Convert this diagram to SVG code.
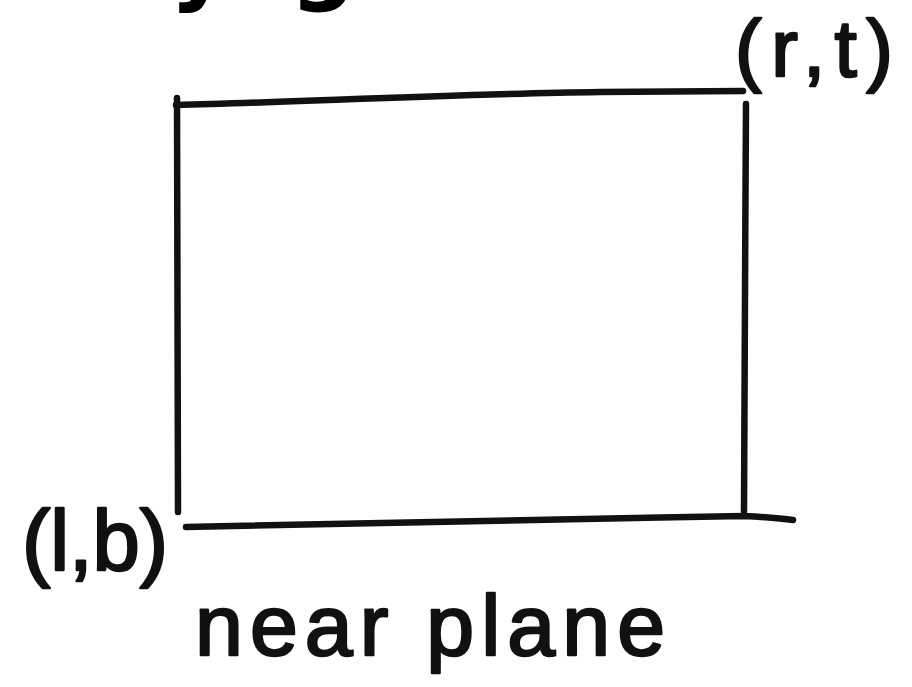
<svg xmlns="http://www.w3.org/2000/svg" width="912" height="687" viewBox="0 0 912 687">
<style>
.ln{fill:none;stroke:#111;stroke-width:6.5;stroke-linecap:round;stroke-linejoin:round}
.hw{font-family:"Liberation Sans","DejaVu Sans",sans-serif;fill:#111;stroke:#111;stroke-width:2.5;stroke-linejoin:round}
.big{font-family:"DejaVu Sans","Liberation Sans",sans-serif;font-weight:bold;fill:#000;font-size:92px}
</style>
<rect width="912" height="687" fill="#fff"/>
<g id="title-fragment">
<text class="big" x="170" y="-7">y</text>
<text class="big" x="290" y="-7">g</text>
</g>
<g id="near-plane-rect">
<path class="ln" d="M176,105 C300,102 450,94 600,92 L743,91"/>
<path class="ln" d="M177,98 L178,512"/>
<path class="ln" d="M746,104 C745,240 745,380 744,511"/>
<path class="ln" d="M186,527 C350,524 550,519 744,516 C765,517 780,518 793,520"/>
</g>
<g id="labels">
<text class="hw" x="735" y="76" font-size="80" textLength="158" lengthAdjust="spacing">(r,t)</text>
<text class="hw" x="22" y="570" font-size="85" textLength="146" lengthAdjust="spacing">(l,b)</text>
<text class="hw" x="195" y="655" font-size="86" textLength="470" lengthAdjust="spacing">near plane</text>
</g>
</svg>
